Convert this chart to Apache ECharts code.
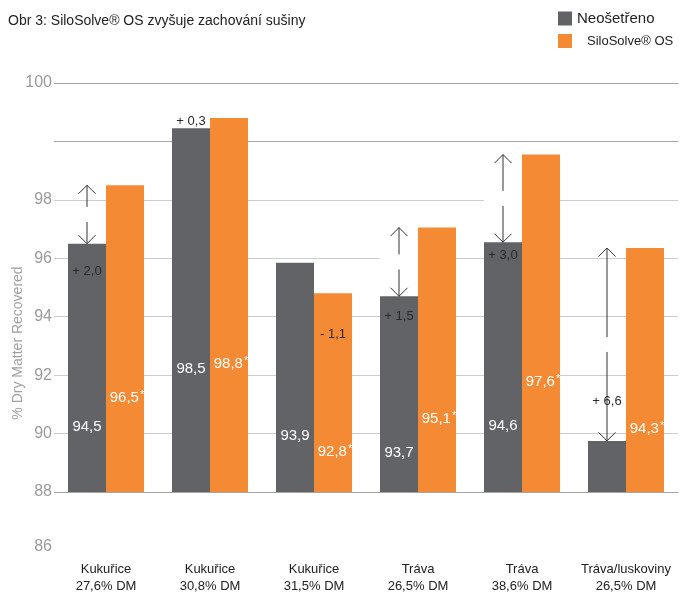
<!DOCTYPE html>
<html><head><meta charset="utf-8">
<script src="https://cdn.jsdelivr.net/npm/echarts@6/dist/echarts.min.js"></script>
<style>html,body{margin:0;padding:0;background:#fff}#c{width:681px;height:595px}</style>
</head><body><div id="c"></div>
<script>
// ---- data ----
const crops = ['Kukuřice', 'Kukuřice', 'Kukuřice', 'Tráva', 'Tráva', 'Tráva/luskoviny'];
const dmContent = ['27,6% DM', '30,8% DM', '31,5% DM', '26,5% DM', '38,6% DM', '26,5% DM'];
const untreated = [94.5, 98.45, 93.85, 92.7, 94.55, 87.75];
const treated = [96.5, 98.8, 92.8, 95.05, 97.55, 94.35];
const untreatedLabels = ['94,5', '98,5', '93,9', '93,7', '94,6', ''];
const treatedLabels = ['96,5', '98,8', '92,8', '95,1', '97,6', '94,3'];
const diffLabels = ['+ 2,0', '+ 0,3', '- 1,1', '+ 1,5', '+ 3,0', '+ 6,6'];
const showArrow = [true, false, false, true, true, true];
const yTickLabels = ['88', '90', '92', '94', '96', '98', '', '100'];
const extraTickLabel = '86';

// ---- layout / style for difference annotations (which bar, px offset from its top) ----
const annotPlace = [
  { bar: 'u', dy: 28 }, { bar: 'u', dy: -7 }, { bar: 't', dy: 41 },
  { bar: 'u', dy: 20 }, { bar: 'u', dy: 13 }, { bar: 'u', dy: -39 }
];
const FONT = '"Liberation Sans", Arial, sans-serif';
const BW = 38;

const chart = echarts.init(document.getElementById('c'));
chart.setOption({
  animation: false,
  textStyle: { fontFamily: FONT },
  title: {
    text: 'Obr 3: SiloSolve® OS zvyšuje zachování sušiny',
    left: 3, top: 9,
    textStyle: { fontSize: 14, fontWeight: 'normal', color: '#222', fontFamily: FONT }
  },
  legend: {
    data: ['Neošetřeno', 'SiloSolve® OS'],
    orient: 'vertical', left: 553, top: 6,
    itemWidth: 14, itemHeight: 14, itemGap: 8, icon: 'rect',
    formatter: n => n === 'Neošetřeno' ? '{a|' + n + '}' : '{b|' + n + '}',
    textStyle: {
      color: '#222',
      rich: {
        a: { fontSize: 15, color: '#222', fontFamily: FONT },
        b: { fontSize: 13, color: '#222', fontFamily: FONT, padding: [0, 0, 0, 10] }
      }
    }
  },
  grid: { left: 54, right: 3, top: 83, bottom: 101 },
  xAxis: {
    type: 'category', data: crops,
    axisLine: { show: false }, axisTick: { show: false },
    axisLabel: {
      interval: 0, margin: 69, color: '#222', fontSize: 13, lineHeight: 17,
      formatter: (v, i) => v + '\n' + dmContent[i]
    }
  },
  yAxis: {
    type: 'value', min: 86, max: 100, interval: 2,
    axisLine: { show: false }, axisTick: { show: false },
    axisLabel: {
      color: '#9a9a9a', fontSize: 16, margin: 2,
      formatter: v => yTickLabels[Math.round((v - 86) / 2)]
    },
    splitLine: {
      lineStyle: {
        width: 1,
        color: ['#a6a6a6', '#cdcdcd', '#cdcdcd', '#cdcdcd', '#cdcdcd', '#cdcdcd', '#a6a6a6', '#a6a6a6']
      }
    }
  },
  series: [
    {
      name: 'Neošetřeno', type: 'bar', data: untreated,
      barWidth: BW, barGap: '0%',
      itemStyle: { color: '#626366' },
      label: {
        show: true, position: 'inside', offset: [0, 59],
        color: '#fff', fontSize: 15,
        formatter: p => untreatedLabels[p.dataIndex]
      }
    },
    {
      name: 'SiloSolve® OS', type: 'bar', data: treated,
      barWidth: BW, barGap: '0%',
      itemStyle: { color: '#f58a34' },
      label: {
        show: true, position: 'inside', offset: [2, 59],
        formatter: p => '{n|' + treatedLabels[p.dataIndex] + '}{s|*}',
        rich: {
          n: { color: '#fff', fontSize: 15, fontFamily: FONT },
          s: { color: '#fff', fontSize: 11, fontFamily: FONT, verticalAlign: 'top', padding: [0, 0, 6, 1] }
        }
      }
    },
    {
      type: 'custom', z: 5, silent: true,
      data: crops.map((_, i) => [i, untreated[i], treated[i]]),
      encode: { x: 0, y: 1 },
      renderItem: (params, api) => {
        const i = api.value(0);
        const u = api.coord([i, api.value(1)]);
        const t = api.coord([i, api.value(2)]);
        const gx = u[0] - BW / 2;
        const ch = [];
        const st = { stroke: '#333', lineWidth: 1, fill: null };
        if (showArrow[i]) {
          const yT = t[1], yB = u[1];
          const mid = (yT + yB) / 2, gap = 7.5, h = 8.5;
          ch.push({ type: 'rect', shape: { x: gx - BW / 2, y: mid - gap, width: BW, height: gap * 2 }, style: { fill: '#fff' } });
          ch.push({ type: 'line', shape: { x1: gx, y1: yT, x2: gx, y2: mid - gap }, style: st });
          ch.push({ type: 'line', shape: { x1: gx, y1: mid + gap, x2: gx, y2: yB }, style: st });
          ch.push({ type: 'polyline', shape: { points: [[gx - h, yT + h], [gx, yT], [gx + h, yT + h]] }, style: st });
          ch.push({ type: 'polyline', shape: { points: [[gx - h, yB - h], [gx, yB], [gx + h, yB - h]] }, style: st });
        }
        const a = annotPlace[i];
        const ax = a.bar === 'u' ? gx : u[0] + BW / 2;
        const ay = (a.bar === 'u' ? u[1] : t[1]) + a.dy;
        ch.push({ type: 'text', style: { text: diffLabels[i], x: ax, y: ay, align: 'center', verticalAlign: 'middle', fill: '#2a2a2a', font: '13px ' + FONT } });
        return { type: 'group', children: ch };
      }
    }
  ]
});

const y86 = chart.convertToPixel({ yAxisIndex: 0 }, 86);
chart.setOption({
  graphic: [
    {
      type: 'text', x: 18, y: 343, rotation: Math.PI / 2,
      style: { text: '% Dry Matter Recovered', align: 'center', verticalAlign: 'middle', fill: '#a0a0a0', font: '14px ' + FONT }
    },
    {
      type: 'text', x: 52, y: y86 + 55,
      style: { text: extraTickLabel, align: 'right', verticalAlign: 'middle', fill: '#9a9a9a', font: '16px ' + FONT }
    }
  ]
});
</script>
</body></html>
